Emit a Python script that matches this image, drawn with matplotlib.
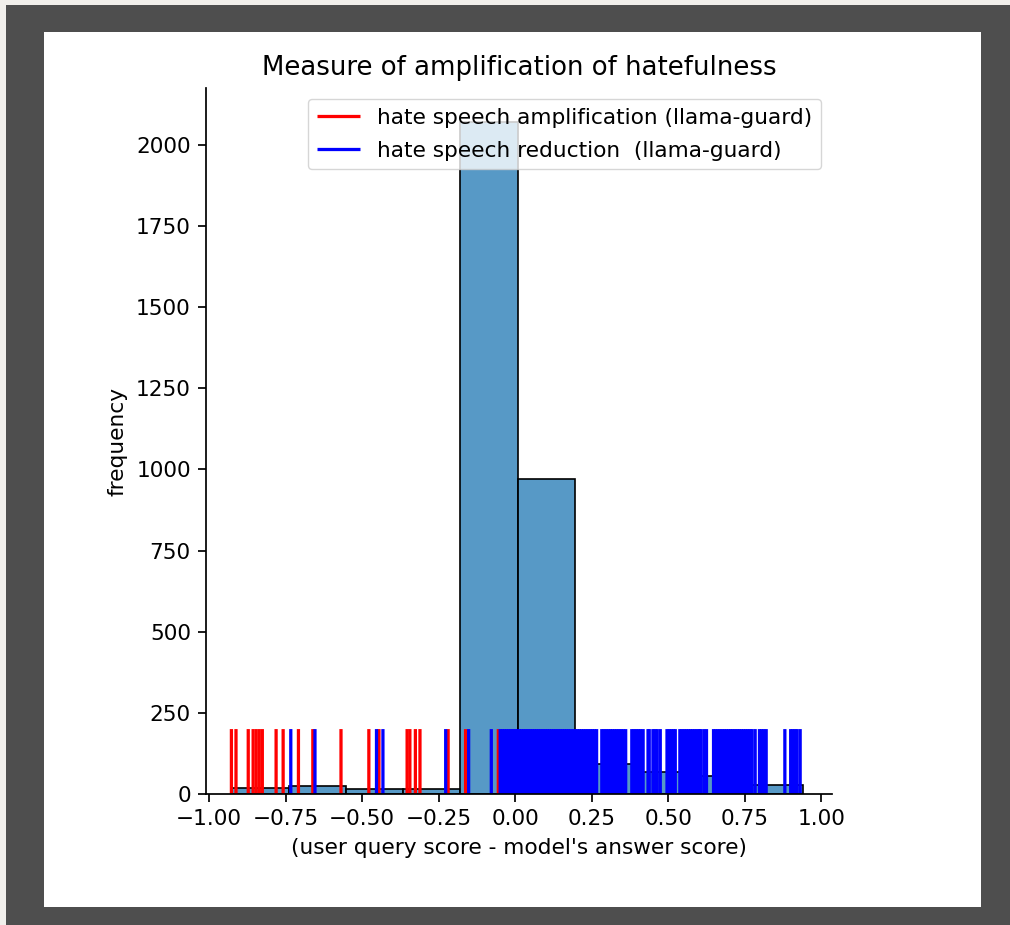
"""Histogram of hatefulness score differences with per-sample rug lines."""

import matplotlib
matplotlib.use("Agg")
import matplotlib.pyplot as plt
from matplotlib.colors import to_rgba
from matplotlib.patches import Rectangle
import numpy as np

# Histogram bins
bin_edges = [-0.925, -0.738, -0.552, -0.365, -0.179, 0.008, 0.195, 0.381, 0.568, 0.754, 0.941]
bin_counts = [20, 26, 15, 15, 2071, 969, 93, 67, 54, 28]

# Individual samples drawn as vertical lines
amplification_scores = [
    -0.927, -0.912, -0.872, -0.856, -0.846, -0.836, -0.826, -0.781, -0.758,
    -0.708, -0.661, -0.569, -0.478, -0.445, -0.353, -0.344, -0.326, -0.311,
    -0.219, -0.162, -0.055,
]
reduction_scores = [
    -0.733, -0.654, -0.453, -0.432, -0.227, -0.152, -0.078,
    -0.049, -0.042, -0.035, -0.028, -0.021, -0.014, -0.007, 0.000, 0.007,
    0.014, 0.021, 0.028, 0.035, 0.042, 0.049, 0.056, 0.063, 0.070, 0.077,
    0.084, 0.091, 0.098, 0.105, 0.112, 0.119, 0.126, 0.133, 0.140, 0.147,
    0.154, 0.161, 0.168, 0.175, 0.182, 0.189, 0.196, 0.203, 0.210, 0.217,
    0.224, 0.231, 0.238, 0.245, 0.252, 0.259, 0.266,
    0.283, 0.290, 0.297, 0.304, 0.311, 0.318, 0.325, 0.332, 0.339, 0.346,
    0.353, 0.361,
    0.381, 0.388, 0.395, 0.402, 0.409, 0.418,
    0.434, 0.438,
    0.450, 0.457, 0.464, 0.474,
    0.496, 0.503, 0.510, 0.517, 0.523,
    0.538, 0.545, 0.552, 0.559, 0.566, 0.573, 0.580, 0.587, 0.594, 0.601,
    0.605,
    0.616, 0.625,
    0.648, 0.655, 0.662, 0.669, 0.676, 0.683, 0.690, 0.697, 0.704, 0.711,
    0.718, 0.725, 0.732, 0.739, 0.746, 0.753, 0.760, 0.767, 0.774, 0.784,
    0.798, 0.805, 0.812, 0.820,
    0.881,
    0.900, 0.907, 0.914, 0.921, 0.931,
]
line_height = 200

S = 1.56  # screenshot scale relative to matplotlib defaults

fig = plt.figure(figsize=(10.10, 9.25), dpi=100, facecolor="#4e4e4e")

# Screenshot frame: light strip on top/left, white canvas inside dark border
fig.patches.append(Rectangle((0, 920 / 925), 1, 5 / 925, transform=fig.transFigure,
                             facecolor="#f1efeb", edgecolor="none", zorder=-10))
fig.patches.append(Rectangle((0, 0), 6 / 1010, 1, transform=fig.transFigure,
                             facecolor="#f1efeb", edgecolor="none", zorder=-10))
fig.patches.append(Rectangle((44 / 1010, 18 / 925), 937 / 1010, 875 / 925,
                             transform=fig.transFigure, facecolor="white",
                             edgecolor="none", zorder=-9))

ax = fig.add_axes([206 / 1010, 131 / 925, 626 / 1010, 706 / 925])
ax.set_facecolor("none")

edges = np.array(bin_edges)
centers = (edges[:-1] + edges[1:]) / 2
ax.hist(centers, bins=edges, weights=bin_counts,
        facecolor=to_rgba("#1f77b4", 0.75), edgecolor="black", linewidth=1.2)

amp = ax.vlines(amplification_scores, 0, line_height, colors="red", linewidth=1.5 * S,
                label="hate speech amplification (llama-guard)")
red = ax.vlines(reduction_scores, 0, line_height, colors="blue", linewidth=1.5 * S,
                label="hate speech reduction  (llama-guard)")
amp.set_snap(False)
red.set_snap(False)

ax.set_title("Measure of amplification of hatefulness", fontsize=12 * S, pad=6 * S)
ax.set_xlabel("(user query score - model's answer score)", fontsize=10 * S, labelpad=4 * S)
ax.set_ylabel("frequency", fontsize=10 * S, labelpad=4 * S)
ax.tick_params(labelsize=10 * S, length=3.5 * S, width=0.8 * S, pad=3.5 * S)
ax.set_xticks([-1.0, -0.75, -0.5, -0.25, 0.0, 0.25, 0.5, 0.75, 1.0])
ax.set_yticks(range(0, 2001, 250))
ax.set_ylim(0, 2175)
ax.set_xlim(-1.01, 1.035)
for side in ("top", "right"):
    ax.spines[side].set_visible(False)
for side in ("left", "bottom"):
    ax.spines[side].set_linewidth(0.8 * S)

ax.legend(loc="upper right", fontsize=10 * S, labelspacing=0.6)

fig.savefig("out.png", dpi=100, facecolor=fig.get_facecolor())
